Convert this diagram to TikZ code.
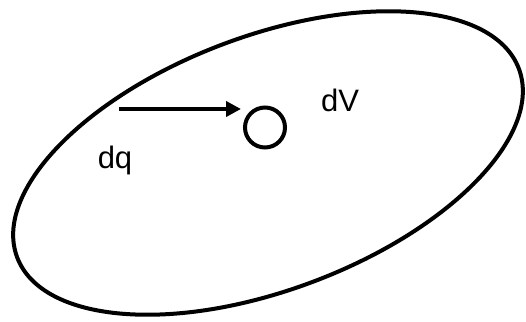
\documentclass[tikz,border=0pt]{standalone}
\usepackage{fontspec}
\setmainfont{Liberation Sans}
\usetikzlibrary{arrows.meta}
\begin{document}
\begin{tikzpicture}[x=1pt,y=1pt,
  outline/.style={line width=4pt,draw=black},
  lbl/.style={font=\fontsize{31}{37}\selectfont,anchor=base,inner sep=0pt},
  arr/.style={line width=4pt,-{Triangle[length=15pt,width=15pt]}}]
\useasboundingbox (0,0) rectangle (526,321);
\draw[outline] (268,158) ellipse[x radius=268,y radius=127,rotate=20.6];
\node[outline,circle,minimum size=40pt,inner sep=0pt] (c) at (265,193.5) {};
\coordinate (s) at (119,212);
\draw[arr] (s) -- ([xshift=-2pt]s -| c.west);
\node[lbl] (dV) at (340,209.5) {dV};
\node[lbl] (dq) at (115,152) {dq};
\end{tikzpicture}
\end{document}
